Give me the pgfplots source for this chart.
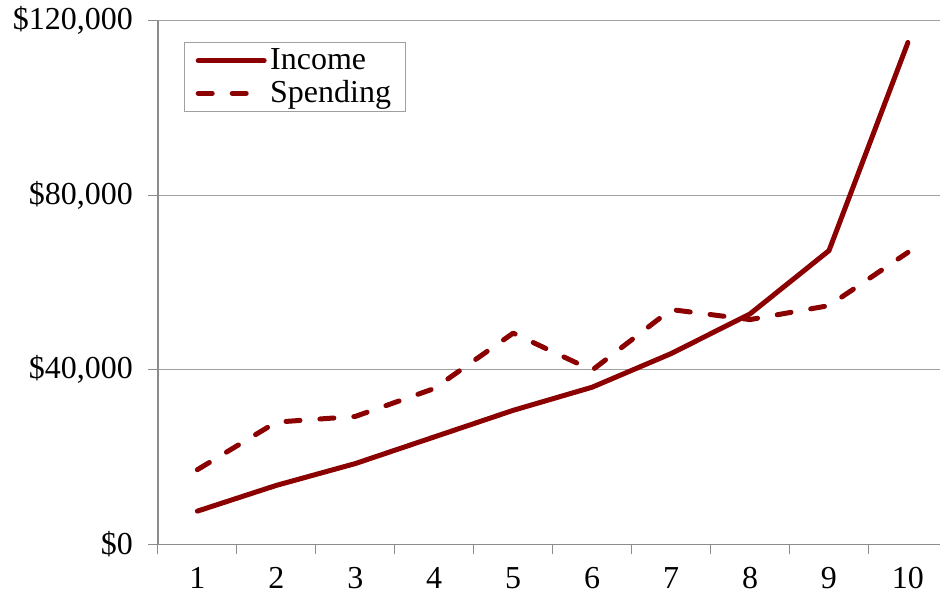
\documentclass[border=0pt]{standalone}
\usepackage{fontspec}
\setmainfont{Liberation Serif}
\usepackage{pgfplots}
\pgfplotsset{compat=1.18}
\definecolor{series}{HTML}{8B0000}
\definecolor{gridgray}{HTML}{A0A0A0}
\definecolor{axisgray}{HTML}{8C8C8C}
\newcommand{\chartfont}{\fontsize{16}{19.2}\selectfont}

\begin{document}
\begin{tikzpicture}
\begin{axis}[
  name=ax,
  scale only axis,
  width=391.5pt, height=262pt,
  xmin=0.5, xmax=10.41,
  ymin=0, ymax=120000,
  axis lines=left,
  axis line style={-, draw=axisgray, line width=0.7pt},
  tick align=outside,
  xtick={1,...,10},
  xticklabels={1,2,3,4,5,6,7,8,9,10},
  major x tick style={draw=none},
  minor xtick={0.5,1.5,...,10.5},
  minor tick length=5pt,
  minor x tick style={draw=axisgray, line width=0.6pt},
  ytick={0,40000,80000,120000},
  yticklabels={{\$0},{\$40,000},{\$80,000},{\$120,000}},
  scaled y ticks=false,
  major tick length=5pt,
  major y tick style={draw=axisgray, line width=0.6pt},
  ymajorgrids,
  grid style={draw=gridgray, line width=0.7pt},
  tick label style={font=\chartfont, text=black},
  xticklabel style={yshift=-3pt},
  yticklabel style={xshift=-4pt},
  clip=false,
  legend style={
    at={(rel axis cs:0.0337,0.9588)}, anchor=north west,
    draw=gridgray, line width=0.5pt,
    font=\chartfont,
    inner xsep=5.5pt, inner ysep=1pt,
    row sep=0pt,
    nodes={inner xsep=1.75pt, inner ysep=2pt},
  },
  legend cell align=left,
  legend image code/.code={%
    \draw[#1] plot coordinates {(0pt,0pt) (33pt,0pt)};},
]
% income per decile
\addplot[series, line width=2.5pt, line cap=round, line join=round]
  coordinates {
  (1,7600) (2,13500) (3,18500) (4,24600) (5,30700)
  (6,36000) (7,43700) (8,52800) (9,67300) (10,115000)
};
\addlegendentry{Income}
% spending per decile
\addplot[series, line width=2.5pt, line cap=round, line join=round,
  dash pattern=on 7pt off 10pt]
  coordinates {
  (1,17100) (2,28000) (3,29300) (4,35700) (5,48400)
  (6,39900) (7,53800) (8,51500) (9,54700) (10,66900)
};
\addlegendentry{Spending}
\end{axis}
\useasboundingbox ([xshift=-79pt,yshift=-28.5pt]ax.south west)
  rectangle ([yshift=10pt]ax.north east);
\end{tikzpicture}
\end{document}
